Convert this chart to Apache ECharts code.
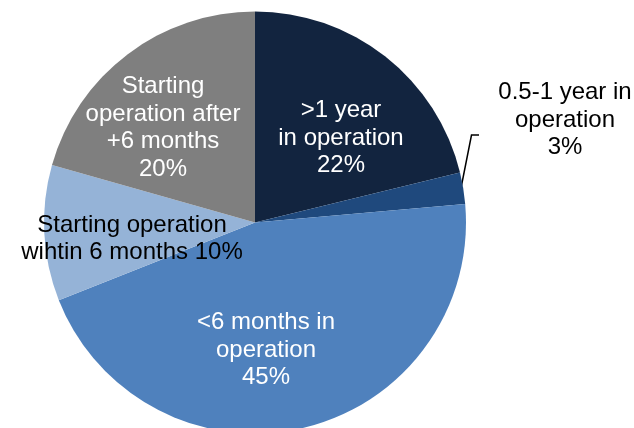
<!DOCTYPE html>
<html>
<head>
<meta charset="utf-8">
<script src="https://cdn.jsdelivr.net/npm/echarts@6/dist/echarts.min.js"></script>
<style>
  html, body { margin: 0; padding: 0; background: #fff; }
  #chart { width: 634px; height: 428px; }
</style>
</head>
<body>
<div id="chart"></div>
<script>
// slice names (line breaks as in the picture)
var categories = [
    ">1 year\nin operation",
    "0.5-1 year in\noperation",
    "<6 months in\noperation",
    "Starting operation\nwihtin 6 months",
    "Starting\noperation after\n+6 months"
];
// slice shares as drawn (measured from the angles)
var values = [21.2, 2.4, 45.4, 10.4, 20.6];
// percentages printed on the labels
var shownPct = [22, 3, 45, 10, 20];

var colors = ["#12243f", "#1f497d", "#4f81bd", "#95b3d7", "#7f7f7f"];
var textColors = ["#fff", "#000", "#fff", "#000", "#fff"];

// label anchor points (centre of each text block)
var labelSpots = [[341, 138], [565, 120], [266, 350], [132, 239], [163, 128]];

var chart = echarts.init(document.getElementById("chart"));

var pieData = categories.map(function (name, i) {
    return {
        name: name,
        value: values[i],
        itemStyle: { color: colors[i] },
        label: { color: textColors[i] }
    };
});

var option = {
    animation: false,
    // leader line of the small slice
    graphic: [{
        type: "polyline",
        silent: true,
        shape: { points: [[461, 188], [471.5, 135], [479, 135]] },
        style: { stroke: "#000", lineWidth: 1.5, fill: null }
    }],
    series: [{
        type: "pie",
        center: [255, 222.5],
        radius: [0, 211],
        startAngle: 90,
        clockwise: true,
        avoidLabelOverlap: false,
        itemStyle: { borderWidth: 0 },
        label: {
            show: true,
            position: "inside",
            fontFamily: "Liberation Sans, Arial, sans-serif",
            fontSize: 24,
            lineHeight: 27.5,
            align: "center",
            formatter: function (p) {
                var sep = p.dataIndex === 3 ? " " : "\n";
                return p.name + sep + shownPct[p.dataIndex] + "%";
            }
        },
        labelLine: { show: false },
        emphasis: { disabled: true },
        labelLayout: function (params) {
            var s = labelSpots[params.dataIndex];
            return { x: s[0], y: s[1], align: "center", verticalAlign: "middle" };
        },
        data: pieData
    }]
};

chart.setOption(option);
</script>
</body>
</html>
